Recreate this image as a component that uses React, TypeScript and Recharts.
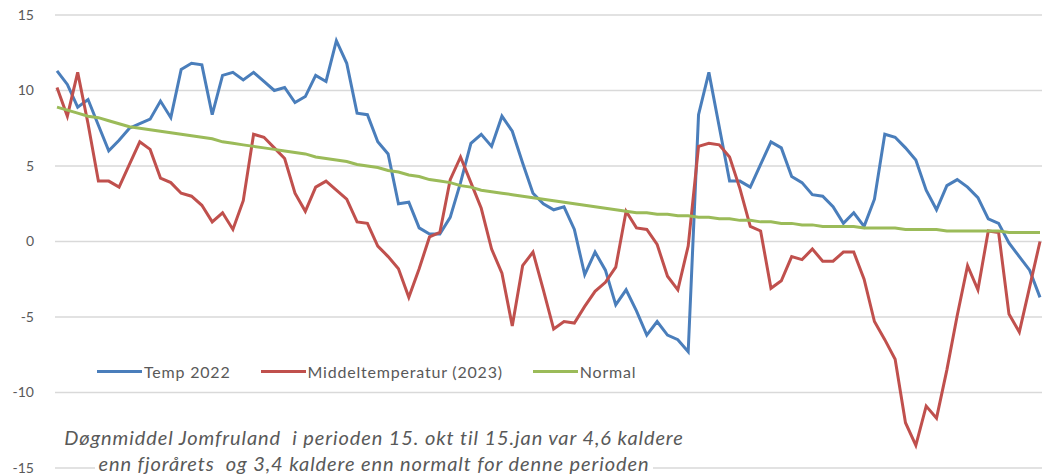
import { CartesianGrid, Line, LineChart, XAxis, YAxis } from 'recharts'

// Døgnmiddel Jomfruland, 15. okt - jan (verdier lest av grafen)
const temp2022 = [
  11.3, 10.4, 8.9, 9.4, 7.7, 6.0, 6.7, 7.5, 7.8, 8.1, 9.3, 8.2, 11.4, 11.8, 11.7, 8.4,
  11.0, 11.2, 10.7, 11.2, 10.6, 10.0, 10.2, 9.2, 9.6, 11.0, 10.6, 13.3, 11.8, 8.5, 8.4, 6.6,
  5.8, 2.5, 2.6, 0.9, 0.5, 0.5, 1.6, 3.9, 6.5, 7.1, 6.3, 8.3, 7.3, 5.2, 3.2, 2.5,
  2.1, 2.3, 0.8, -2.2, -0.7, -1.9, -4.2, -3.2, -4.6, -6.2, -5.3, -6.2, -6.5, -7.3, 8.4, 11.2,
  7.6, 4.0, 4.0, 3.6, 5.1, 6.6, 6.2, 4.3, 3.9, 3.1, 3.0, 2.3, 1.2, 1.9, 1.0, 2.8,
  7.1, 6.9, 6.2, 5.4, 3.4, 2.1, 3.7, 4.1, 3.6, 2.9, 1.5, 1.2, -0.1, -1.0, -1.9, -3.7,
]

const middel2023 = [
  10.2, 8.3, 11.2, 7.8, 4.0, 4.0, 3.6, 5.1, 6.6, 6.1, 4.2, 3.9, 3.2, 3.0, 2.4, 1.3,
  1.9, 0.8, 2.7, 7.1, 6.9, 6.2, 5.5, 3.2, 2.0, 3.6, 4.0, 3.4, 2.8, 1.3, 1.2, -0.3,
  -1.0, -1.8, -3.7, -1.8, 0.3, 0.6, 4.1, 5.6, 3.9, 2.2, -0.5, -2.1, -5.6, -1.6, -0.7, -3.2,
  -5.8, -5.3, -5.4, -4.3, -3.3, -2.7, -1.7, 2.0, 0.9, 0.8, -0.2, -2.3, -3.2, -0.3, 6.3, 6.5,
  6.4, 5.6, 3.5, 1.0, 0.7, -3.1, -2.6, -1.0, -1.2, -0.5, -1.3, -1.3, -0.7, -0.7, -2.5, -5.3,
  -6.5, -7.8, -12.0, -13.5, -10.9, -11.7, -8.5, -4.9, -1.6, -3.2, 0.7, 0.6, -4.8, -6.0, -3.0, 0.0,
]

const normal = [
  8.9, 8.7, 8.5, 8.3, 8.2, 8.0, 7.8, 7.6, 7.5, 7.4, 7.3, 7.2, 7.1, 7.0, 6.9, 6.8,
  6.6, 6.5, 6.4, 6.3, 6.2, 6.1, 6.0, 5.9, 5.8, 5.6, 5.5, 5.4, 5.3, 5.1, 5.0, 4.9,
  4.7, 4.6, 4.4, 4.3, 4.1, 4.0, 3.9, 3.7, 3.6, 3.4, 3.3, 3.2, 3.1, 3.0, 2.9, 2.8,
  2.7, 2.6, 2.5, 2.4, 2.3, 2.2, 2.1, 2.0, 1.9, 1.9, 1.8, 1.8, 1.7, 1.7, 1.6, 1.6,
  1.5, 1.5, 1.4, 1.4, 1.3, 1.3, 1.2, 1.2, 1.1, 1.1, 1.0, 1.0, 1.0, 1.0, 0.9, 0.9,
  0.9, 0.9, 0.8, 0.8, 0.8, 0.8, 0.7, 0.7, 0.7, 0.7, 0.7, 0.7, 0.6, 0.6, 0.6, 0.6,
]

const yTicks = [-15, -10, -5, 0, 5, 10, 15]

const series = [
  { key: 'temp2022', name: 'Temp 2022', color: '#4A7EBB' },
  { key: 'middel2023', name: 'Middeltemperatur (2023)', color: '#C0504D' },
  { key: 'normal', name: 'Normal', color: '#9BBB59' },
]

const data = temp2022.map((v, i) => ({
  dag: i + 1,
  temp2022: v,
  middel2023: middel2023[i],
  normal: normal[i],
}))

const textColor = '#595959'
const font = 'Lato, "Open Sans", sans-serif'

export default function App() {
  return (
    <div style={{ position: 'absolute', left: 0, top: 0, width: 1042, height: 475, background: '#fff', fontFamily: font }}>
      <LineChart
        width={1042}
        height={475}
        data={data}
        margin={{ top: 15, right: 0, left: 0, bottom: 7 }}
      >
        <CartesianGrid vertical={false} stroke="#d9d9d9" strokeWidth={1.5} />
        <XAxis dataKey="dag" type="number" domain={[1, 96]} hide padding={{ left: 2, right: 2 }} />
        <YAxis
          domain={[-15, 15]}
          ticks={yTicks}
          interval={0}
          axisLine={false}
          tickLine={false}
          tickSize={0}
          tickMargin={21}
          width={55}
          tick={{ fill: textColor, fontSize: 14, fontFamily: font }}
        />
        {series.map((s) => (
          <Line
            key={s.key}
            dataKey={s.key}
            name={s.name}
            stroke={s.color}
            strokeWidth={3}
            dot={false}
            type="linear"
            isAnimationActive={false}
          />
        ))}
      </LineChart>

      <div style={{ position: 'absolute', left: 97, top: 362, display: 'flex', alignItems: 'center', fontSize: 16, color: textColor, letterSpacing: 0.8 }}>
        {series.map((s, i) => (
          <div key={s.key} style={{ display: 'flex', alignItems: 'center', marginRight: i < 2 ? 30 : 0 }}>
            <span style={{ display: 'inline-block', width: 45, height: 3, background: s.color, marginRight: 2 }} />
            <span>{s.name}</span>
          </div>
        ))}
      </div>

      <div style={{ position: 'absolute', left: 24, top: 424, width: 700, textAlign: 'center', fontStyle: 'italic', fontSize: 20, lineHeight: '26px', color: textColor, letterSpacing: 0.9 }}>
        <div>Døgnmiddel Jomfruland&nbsp; i perioden 15. okt til 15.jan var 4,6 kaldere</div>
        <div><span style={{ background: '#fff', padding: '0 4px' }}>enn fjorårets&nbsp; og 3,4 kaldere enn normalt for denne perioden</span></div>
      </div>
    </div>
  )
}
